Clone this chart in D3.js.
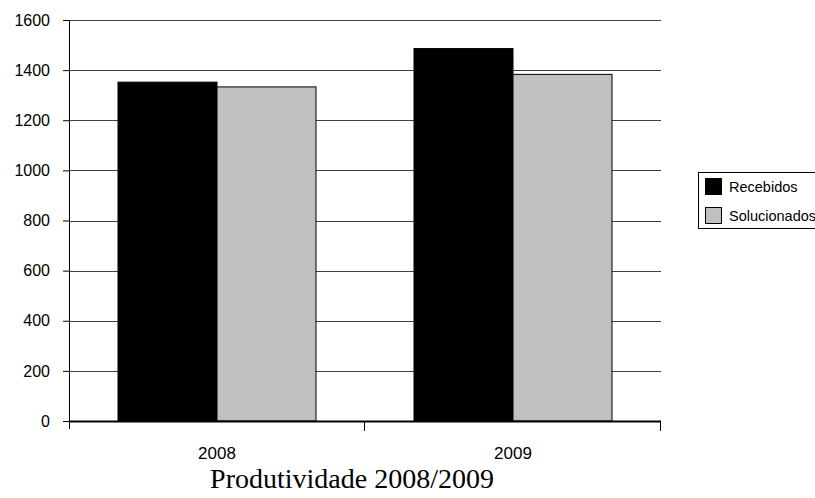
<!DOCTYPE html>
<html>
<head>
<meta charset="utf-8">
<script src="https://cdn.jsdelivr.net/npm/d3@7"></script>
<style>
  body { margin: 0; background: #fff; }
  svg { display: block; }
</style>
</head>
<body>
<div id="chart"></div>
<script>
var svgWidth = 815;
var svgHeight = 498;

var margin = { top: 20, right: 154, bottom: 77, left: 69 };
var width = svgWidth - margin.left - margin.right;
var height = svgHeight - margin.top - margin.bottom;

var sansFont = "Arial, 'Liberation Sans', sans-serif";
var serifFont = "'Times New Roman', 'Liberation Serif', serif";

// data
var years = ["2008", "2009"];
var seriesNames = ["Recebidos", "Solucionados"];
var recebidos = [1352, 1486];
var solucionados = [1333, 1383];
var yTicks = [0, 200, 400, 600, 800, 1000, 1200, 1400, 1600];
var colors = ["#000000", "#c0c0c0"];

var svg = d3.select("#chart")
  .append("svg")
  .attr("width", svgWidth)
  .attr("height", svgHeight);

var chartGroup = svg.append("g")
  .attr("transform", `translate(${margin.left}, ${margin.top})`);

var xScale = d3.scaleBand()
  .domain(years)
  .range([0, width]);

var xInner = d3.scaleBand()
  .domain(seriesNames)
  .range([49, xScale.bandwidth() - 49]);

var yScale = d3.scaleLinear()
  .domain([0, 1600])
  .range([height, 0]);

// gridlines
chartGroup.selectAll(".grid")
  .data(yTicks.filter(d => d > 0))
  .enter()
  .append("line")
  .attr("x1", 0)
  .attr("x2", width)
  .attr("y1", d => Math.round(yScale(d)) + 0.5)
  .attr("y2", d => Math.round(yScale(d)) + 0.5)
  .attr("stroke", "#404040")
  .attr("stroke-width", 1);

// bars
var rows = years.map((y, i) => ({ year: y, values: [recebidos[i], solucionados[i]] }));

var groups = chartGroup.selectAll(".yr")
  .data(rows)
  .enter()
  .append("g")
  .attr("transform", d => `translate(${xScale(d.year)},0)`);

groups.selectAll("rect")
  .data(d => d.values.map((v, j) => ({ name: seriesNames[j], value: v, color: colors[j] })))
  .enter()
  .append("rect")
  .attr("x", d => xInner(d.name))
  .attr("width", xInner.bandwidth())
  .attr("y", d => yScale(d.value))
  .attr("height", d => height - yScale(d.value))
  .attr("fill", d => d.color)
  .attr("stroke", "#000")
  .attr("stroke-width", 1);

// y axis
var leftAxis = d3.axisLeft(yScale)
  .tickValues(yTicks)
  .tickFormat(d3.format("d"))
  .tickSize(6)
  .tickPadding(13)
  .tickSizeOuter(0);

var yAxis = chartGroup.append("g").call(leftAxis);
yAxis.select(".domain").remove();
yAxis.selectAll(".tick line").attr("stroke", "#000");
yAxis.selectAll(".tick text")
  .attr("fill", "#000")
  .style("font-family", sansFont)
  .style("font-size", "16px");

chartGroup.append("line")
  .attr("x1", 0.5).attr("x2", 0.5)
  .attr("y1", 0).attr("y2", height + 8)
  .attr("stroke", "#000");

// x axis
var bottomAxis = d3.axisBottom(xScale)
  .tickSize(0)
  .tickPadding(26);

var xAxis = chartGroup.append("g")
  .attr("transform", `translate(0, ${height})`)
  .call(bottomAxis);
xAxis.select(".domain").remove();
xAxis.selectAll(".tick text")
  .attr("fill", "#000")
  .style("font-family", sansFont)
  .style("font-size", "17px");

chartGroup.append("line")
  .attr("x1", 0).attr("x2", width)
  .attr("y1", height + 0.5).attr("y2", height + 0.5)
  .attr("stroke", "#000")
  .attr("stroke-width", 2);

// category separators
chartGroup.selectAll(".sep")
  .data([width / 2, width])
  .enter()
  .append("line")
  .attr("x1", d => Math.round(d) - 0.5)
  .attr("x2", d => Math.round(d) - 0.5)
  .attr("y1", height)
  .attr("y2", height + 10)
  .attr("stroke", "#000");

// title
svg.append("text")
  .attr("x", 352)
  .attr("y", 488)
  .attr("text-anchor", "middle")
  .style("font-family", serifFont)
  .style("font-size", "28px")
  .text("Produtividade 2008/2009");

// legend
var legend = svg.append("g")
  .attr("transform", "translate(698, 172)");

legend.append("rect")
  .attr("x", 0.5).attr("y", 0.5)
  .attr("width", 130).attr("height", 56)
  .attr("fill", "#fff")
  .attr("stroke", "#000");

seriesNames.forEach(function(name, i) {
  legend.append("rect")
    .attr("x", 7.5)
    .attr("y", 6.5 + i * 29)
    .attr("width", 16)
    .attr("height", 16)
    .attr("fill", colors[i])
    .attr("stroke", "#000");
  legend.append("text")
    .attr("x", 31)
    .attr("y", 20 + i * 29)
    .style("font-family", sansFont)
    .style("font-size", "14.5px")
    .text(name);
});
</script>
</body>
</html>
